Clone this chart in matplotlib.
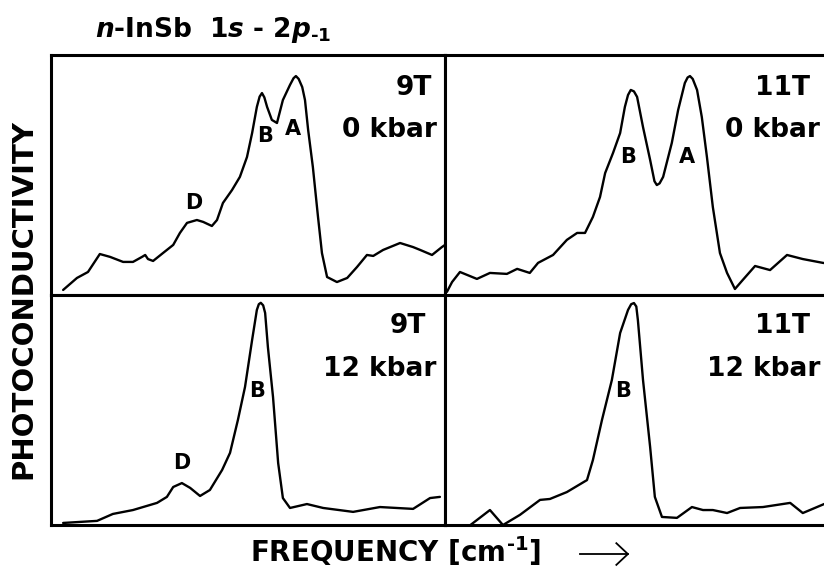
import matplotlib.pyplot as plt

plt.rcParams['font.family'] = ['DejaVu Sans']
plt.rcParams['font.weight'] = 'bold'
plt.rcParams['mathtext.fontset'] = 'custom'
plt.rcParams['mathtext.rm'] = 'DejaVu Sans:bold'
plt.rcParams['mathtext.it'] = 'DejaVu Sans:italic:bold'
plt.rcParams['mathtext.bf'] = 'DejaVu Sans:bold'

# spectra, frequency and signal in arbitrary units (0-100 across each panel)
freq_9T_0 = [3.2, 6.7, 9.5, 12.5, 15.1, 18.4, 20.9, 23.2, 24.0, 24.7, 26.0, 28.5,
             31.1, 32.8, 34.6, 37.1, 38.7, 40.9, 42.2, 43.7, 46.0, 48.0, 49.8,
             51.1, 52.3, 53.0, 53.6, 54.2, 54.9, 56.1, 57.4, 58.9, 60.7, 61.6,
             62.2, 62.9, 63.8, 64.5, 65.3, 66.5, 67.8, 68.8, 70.1, 72.6, 75.2,
             77.7, 80.2, 81.8, 84.3, 88.6, 91.9, 93.7, 96.7, 99.2, 100.0]
sig_9T_0 = [2.1, 7.1, 9.6, 17.1, 15.9, 13.8, 13.8, 15.9, 16.7, 15.0, 14.2, 17.5,
            20.9, 25.9, 30.1, 31.3, 30.5, 28.8, 31.3, 38.4, 43.8, 49.3, 57.6,
            67.6, 78.5, 82.8, 84.3, 82.5, 78.5, 73.1, 71.8, 81.4, 87.7, 90.5,
            91.4, 90.2, 86.8, 81.4, 68.9, 53.4, 32.6, 17.5, 7.5, 5.4, 7.1,
            11.7, 16.7, 16.3, 18.8, 21.7, 20.0, 18.8, 16.7, 20.0, 20.9]

freq_11T_0 = [0.5, 1.8, 3.8, 8.1, 11.4, 15.7, 18.3, 21.5, 23.6, 27.4, 30.9, 33.5,
              35.5, 37.5, 39.3, 40.6, 42.6, 44.4, 45.6, 46.4, 47.1, 47.9, 48.7,
              50.2, 52.0, 53.1, 53.7, 54.4, 55.3, 57.5, 59.1, 60.8, 61.5, 62.1,
              62.8, 63.9, 65.1, 66.4, 67.9, 69.7, 71.5, 73.5, 75.5, 78.6, 82.4,
              86.7, 90.7, 95.8, 100.0]
sig_11T_0 = [1.3, 5.4, 9.6, 6.7, 9.2, 8.8, 10.9, 9.2, 13.4, 16.7, 23.0, 25.9,
             25.9, 32.6, 40.9, 50.9, 59.3, 67.6, 78.5, 83.5, 85.6, 85.0, 82.7,
             70.1, 56.4, 47.5, 45.9, 46.6, 49.3, 63.5, 77.2, 88.5, 90.8, 91.4,
             90.2, 85.6, 74.3, 57.6, 36.7, 17.5, 9.2, 2.5, 6.3, 12.1, 10.4,
             16.7, 15.0, 13.4, 12.5]

freq_9T_12 = [3.2, 11.8, 15.8, 20.9, 27.0, 29.5, 31.1, 33.3, 35.4, 37.9, 40.4,
              43.5, 45.5, 47.5, 49.3, 51.1, 52.3, 52.8, 53.3, 53.9, 54.4, 55.1,
              56.4, 57.7, 58.9, 60.7, 65.0, 69.1, 76.7, 83.5, 91.9, 96.2, 98.7]
sig_9T_12 = [1.1, 2.0, 5.0, 6.7, 9.8, 12.4, 16.7, 18.4, 16.3, 12.8, 15.4,
             24.1, 31.5, 45.8, 60.1, 80.5, 93.5, 96.0, 96.6, 95.5, 92.2, 77.4,
             55.7, 27.1, 11.9, 7.6, 9.3, 7.6, 5.9, 8.0, 7.2, 11.9, 12.4]

freq_11T_12 = [6.3, 11.4, 14.7, 19.0, 24.1, 26.6, 30.9, 36.0, 37.5, 39.8, 42.3,
               44.4, 46.4, 47.2, 47.9, 48.5, 48.9, 50.2, 52.0, 53.2, 55.0, 58.8,
               62.6, 65.4, 67.9, 71.5, 74.8, 80.6, 87.5, 90.7, 96.1, 100.0]
sig_11T_12 = [0.0, 6.7, 0.2, 4.6, 11.1, 11.5, 14.5, 19.7, 28.4, 45.8, 63.1,
              83.5, 93.5, 96.0, 96.5, 95.0, 89.1, 63.1, 34.1, 12.4, 3.7, 3.3,
              8.0, 6.7, 6.7, 5.4, 7.6, 8.0, 9.8, 5.4, 9.3, 10.5]

fields = ["9T", "11T", "9T", "11T"]
pressures = ["0 kbar", "0 kbar", "12 kbar", "12 kbar"]

# peak labels per panel: (name, freq, signal)
peaks_9T_0 = [("B", 54.4, 66.4), ("A", 61.5, 69.3), ("D", 36.4, 38.4)]
peaks_11T_0 = [("B", 46.4, 57.6), ("A", 61.3, 57.6)]
peaks_9T_12 = [("B", 52.3, 58.4), ("D", 33.3, 27.1)]
peaks_11T_12 = [("B", 45.1, 58.4)]

fig = plt.figure(figsize=(8.24, 5.70), dpi=100)

w = 0.4788
boxes = [
    [0.0613, 0.4825, w, 0.4202],
    [0.5400, 0.4825, w, 0.4202],
    [0.0613, 0.0781, w, 0.4044],
    [0.5400, 0.0781, w, 0.4044],
]
spectra = [(freq_9T_0, sig_9T_0), (freq_11T_0, sig_11T_0),
           (freq_9T_12, sig_9T_12), (freq_11T_12, sig_11T_12)]
peaks = [peaks_9T_0, peaks_11T_0, peaks_9T_12, peaks_11T_12]
field_x = [0.967, 0.925, 0.952, 0.925]
press_x = [0.980, 0.951, 0.978, 0.951]
field_y = [0.864, 0.864, 0.866, 0.866]
press_y = [0.687, 0.687, 0.679, 0.679]

for i in range(4):
    ax = fig.add_axes(boxes[i])
    f, s = spectra[i]
    ax.plot(f, s, color="black", lw=1.7, solid_joinstyle="round",
            solid_capstyle="round")
    ax.set_xlim(0, 100)
    ax.set_ylim(0, 100)
    ax.set_xticks([])
    ax.set_yticks([])
    for sp in ax.spines.values():
        sp.set_linewidth(2.2)
    ax.text(field_x[i], field_y[i], fields[i], transform=ax.transAxes,
            ha="right", va="center", fontsize=19, fontweight="bold")
    ax.text(press_x[i], press_y[i], pressures[i], transform=ax.transAxes,
            ha="right", va="center", fontsize=19, fontweight="bold")
    for name, px, py in peaks[i]:
        ax.text(px, py, name, ha="center", va="center", fontsize=15,
                fontweight="bold")

fig.text(0.115, 0.9357,
         r"$\mathit{n}$-InSb  1$\mathit{s}$ - 2$\mathit{p}_{\text{-1}}$",
         ha="left", va="baseline", fontsize=19, fontweight="bold")
fig.text(0.028, 0.476, "PHOTOCONDUCTIVITY", rotation=90, ha="center",
         va="center", fontsize=21, fontweight="bold")
fig.text(0.303, 0.014, r"FREQUENCY [cm$^{\text{-1}}$]", ha="left",
         va="baseline", fontsize=20, fontweight="bold")
fig.add_artist(plt.Line2D([0.704, 0.762], [0.028, 0.028], color="black", lw=1.3))
fig.add_artist(plt.Line2D([0.748, 0.762, 0.748], [0.047, 0.028, 0.009],
                          color="black", lw=1.3))

fig.savefig("out.png", dpi=100)
